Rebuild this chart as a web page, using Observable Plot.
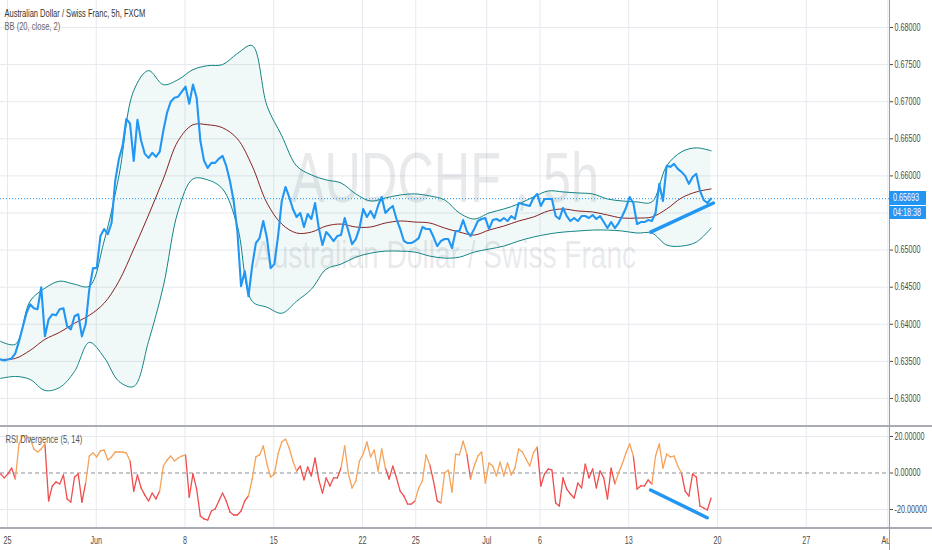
<!DOCTYPE html>
<html><head><meta charset="utf-8">
<script src="https://cdn.jsdelivr.net/npm/d3@7"></script>
<script src="https://cdn.jsdelivr.net/npm/@observablehq/plot@0.6"></script>
<style>
body{margin:0;background:#fff;font-family:"Liberation Sans",Arial,sans-serif;}
#wrap{position:relative;width:932px;height:550px;overflow:hidden;background:#fff;}
#main,#rsi{position:absolute;left:0;}
#main{top:0;} #rsi{top:427px;}
.sep{position:absolute;left:0;width:932px;height:2px;background:#a9acb3;}
.vline{position:absolute;left:889px;top:0;width:1px;height:550px;background:#9a9da5;}
.tag{position:absolute;left:889px;width:37px;background:#2196F3;color:#fff;font-size:10px;line-height:13px;height:13px;overflow:hidden;white-space:nowrap;}
.tag span{display:inline-block;transform:scaleX(0.72);transform-origin:left center;margin-left:4px;}
.mask{position:absolute;left:890px;top:529px;width:42px;height:21px;background:#fff;}
</style></head><body><div id="wrap"><div id="main"></div><div id="rsi"></div></div>
<script>
// ---------- data ----------
const symbolTitle = "Australian Dollar / Swiss Franc, 5h, FXCM";
const bbTitle = "BB (20, close, 2)";
const rsiTitle = "RSI Divergence (5, 14)";
const watermarkBig = "AUDCHF , 5h";
const watermarkSmall = "Australian Dollar / Swiss Franc";
const countdown = "04:18:38";

// trading-day positions of the x ticks (weekends removed)
const tickDays = [0, 5, 10, 15, 20, 23, 27, 30, 35, 40, 45, 49.6];
const tickLabels = ["25", "Jun", "8", "15", "22", "25", "Jul", "6", "13", "20", "27", "Aug"];
const priceTicks = [0.630, 0.635, 0.640, 0.645, 0.650, 0.655, 0.660, 0.665, 0.670, 0.675, 0.680];
const rsiTicks = [20, 0, -20];

const firstBarDay = -0.394;   // day of first visible 5h bar
const barStep = 0.2085;       // days per bar
const bandEvery = 4;          // band values read every 4 bars

const closes = [
0.63527,0.63513,0.63527,0.63540,0.63608,0.63770,0.63959,0.64149,0.64270,0.64216,
0.64202,0.64500,0.63838,0.64067,0.64135,0.64121,0.64202,0.64216,0.63973,0.63932,
0.64108,0.64135,0.63838,0.64000,0.64473,0.64757,0.64757,0.65189,0.65284,0.65216,
0.65365,0.65932,0.66230,0.66405,0.66770,0.66703,0.66203,0.66757,0.66473,0.66297,
0.66243,0.66311,0.66257,0.66324,0.66608,0.66851,0.67000,0.67054,0.67068,0.67135,
0.67203,0.66973,0.67230,0.67054,0.66473,0.66203,0.66108,0.66176,0.66176,0.66230,
0.66270,0.66135,0.65932,0.65662,0.65257,0.64514,0.64716,0.64378,0.64784,0.65095,
0.65162,0.65392,0.65162,0.64757,0.64811,0.65189,0.65662,0.65851,0.65716,0.65554,
0.65446,0.65500,0.65311,0.65487,0.65419,0.65635,0.65297,0.65068,0.65243,0.65189,
0.65122,0.65189,0.65203,0.65432,0.65257,0.65081,0.65149,0.65297,0.65554,0.65446,
0.65527,0.65432,0.65595,0.65716,0.65500,0.65554,0.65595,0.65419,0.65284,0.65122,
0.65095,0.65095,0.65122,0.65162,0.65311,0.65284,0.65284,0.65176,0.65054,0.65122,
0.65149,0.65149,0.65027,0.65257,0.65257,0.65405,0.65257,0.65189,0.65284,0.65392,
0.65419,0.65432,0.65284,0.65405,0.65419,0.65392,0.65432,0.65392,0.65459,0.65419,
0.65635,0.65622,0.65608,0.65595,0.65703,0.65757,0.65595,0.65689,0.65689,0.65689,
0.65459,0.65419,0.65568,0.65459,0.65392,0.65432,0.65392,0.65459,0.65459,0.65432,
0.65473,0.65419,0.65459,0.65378,0.65297,0.65378,0.65297,0.65365,0.65459,0.65568,
0.65716,0.65635,0.65351,0.65378,0.65378,0.65405,0.65392,0.65500,0.65892,0.65662,
0.66135,0.66122,0.66162,0.66095,0.66054,0.66000,0.65892,0.65986,0.66027,0.65797,
0.65676,0.65635,0.65693
];

const bbUpper = [
0.63770,0.63730,0.64311,0.64486,0.64581,0.64540,0.64514,0.65122,0.66000,0.67149,
0.67419,0.67230,0.67297,0.67432,0.67486,0.67500,0.67649,0.67757,0.66946,0.66541,
0.66135,0.66014,0.65946,0.65905,0.65757,0.65662,0.65703,0.65743,0.65757,0.65730,
0.65676,0.65500,0.65419,0.65500,0.65554,0.65622,0.65716,0.65797,0.65784,0.65770,
0.65757,0.65689,0.65662,0.65649,0.65649,0.66135,0.66324,0.66378,0.66338
];
const bbBasis = [
0.63527,0.63540,0.63648,0.63797,0.63892,0.64014,0.64121,0.64284,0.64581,0.65014,
0.65473,0.65959,0.66473,0.66689,0.66689,0.66649,0.66500,0.66135,0.65635,0.65351,
0.65230,0.65243,0.65324,0.65351,0.65311,0.65311,0.65365,0.65392,0.65378,0.65365,
0.65297,0.65243,0.65203,0.65270,0.65324,0.65392,0.65446,0.65527,0.65554,0.65527,
0.65514,0.65473,0.65432,0.65432,0.65446,0.65554,0.65703,0.65784,0.65824
];
const bbLower = [
0.63270,0.63297,0.63257,0.63108,0.63149,0.63365,0.63757,0.63554,0.63230,0.63162,
0.63770,0.64514,0.65527,0.65959,0.65946,0.65824,0.65324,0.64311,0.64230,0.64149,
0.64311,0.64473,0.64743,0.64811,0.64905,0.64959,0.64986,0.64986,0.64973,0.64919,
0.64892,0.64905,0.64973,0.65014,0.65054,0.65122,0.65176,0.65216,0.65243,0.65257,
0.65270,0.65270,0.65257,0.65230,0.65230,0.65068,0.65054,0.65108,0.65297
];

const rsiDiv = [
-0.5,-2.7,-0.5,2.7,-3.3,15.9,20.3,20.3,19.2,13.2,
11.5,13.2,15.9,-15.3,-7.1,-4.9,-6.0,-1.1,-14.2,-15.9,
-2.2,-0.5,-15.9,-5.5,9.3,11.0,8.8,12.1,12.6,7.1,
8.8,11.5,11.5,11.5,11.0,6.6,-9.9,-1.1,-8.2,-12.1,
-15.3,-11.0,-14.2,-9.9,3.8,7.1,9.3,6.6,8.2,9.3,
9.9,-13.2,-0.5,-8.8,-23.6,-25.2,-25.8,-20.8,-19.7,-15.3,
-11.0,-15.3,-21.4,-23.0,-23.0,-20.8,-15.3,-12.6,-3.3,8.8,
9.9,14.8,4.9,-2.2,-0.5,10.4,17.0,18.6,13.7,6.6,
1.1,3.8,-3.8,3.3,-1.6,8.2,-3.8,-11.0,-2.7,-7.1,
-2.7,-2.7,2.7,14.8,-0.5,-8.2,-4.4,6.6,10.4,17.0,
8.8,12.6,1.1,13.2,2.7,-3.3,3.8,-2.7,-9.9,-12.6,
-17.0,-17.0,-15.3,-8.2,-4.4,9.9,4.4,-4.4,-15.3,-16.4,
0.0,1.6,-10.4,10.4,9.9,17.5,10.4,-3.3,3.8,9.3,
11.5,-5.5,5.5,3.8,-1.6,6.0,-1.6,5.5,-1.1,2.7,
13.2,11.5,7.7,3.8,11.0,14.2,-7.1,-0.5,2.2,1.6,
-16.4,-18.1,-2.7,-8.8,-11.5,-13.7,-5.5,-8.2,4.9,-2.7,
2.2,-8.2,1.1,-2.7,-14.2,2.7,-6.0,0.0,4.9,11.0,
15.9,9.3,-8.8,-7.1,-7.1,-3.8,-6.0,9.3,15.9,2.7,
10.4,8.8,9.3,3.8,0.0,-9.9,-12.6,-0.5,-2.2,-18.1,
-19.2,-20.3,-13.7
];
// bar ranges where the RSI line is drawn orange (otherwise red)
const orangeRanges = [[5,12],[24,35],[44,50],[68,80],[93,104],[113,116],[120,126],[128,145],[167,171],[177,184]];

// hand-drawn divergence trend lines
const trendPrice = [{day: 36.23, v: 0.65243}, {day: 39.77, v: 0.65635}];
const trendRsi = [{day: 36.23, v: -9.3}, {day: 39.42, v: -24.5}];

// ---------- build ----------
const K = 0.72; // horizontal text squeeze of the reference
const FONT = "Liberation Sans, Arial, sans-serif";
const xDomain = [-0.394, 49.69];
const gridColor = "#e6e9ee";
const smooth = "catmull-rom";

const bars = closes.map((c, i) => ({day: firstBarDay + i * barStep, close: c}));
const bands = bbUpper.map((u, k) => ({day: firstBarDay + k * bandEvery * barStep, upper: u, basis: bbBasis[k], lower: bbLower[k]}));
const lastClose = closes[closes.length - 1];

function squeeze(svg) {
  svg.querySelectorAll("text").forEach(t => {
    const x = +t.getAttribute("x") || 0;
    const tr = t.getAttribute("transform") || "";
    t.setAttribute("transform", `${tr} translate(${x},0) scale(${K},1) translate(${-x},0)`);
  });
}

const main = Plot.plot({
  width: 932, height: 425,
  marginLeft: 0, marginRight: 43, marginTop: 0, marginBottom: 0,
  style: {fontFamily: FONT, fontSize: "10px", background: "transparent", overflow: "visible"},
  x: {domain: xDomain, axis: null},
  y: {domain: [0.62636, 0.68364], axis: null},
  marks: [
    Plot.gridY({ticks: priceTicks, stroke: gridColor, strokeOpacity: 1}),
    Plot.gridX({ticks: tickDays, stroke: gridColor, strokeOpacity: 1}),
    Plot.text([watermarkBig], {text: d => d, frameAnchor: "middle", dy: -11, lineAnchor: "bottom", fontSize: 70, fill: "#787b86", fillOpacity: 0.17}),
    Plot.text([watermarkSmall], {text: d => d, frameAnchor: "middle", dy: 55, lineAnchor: "bottom", fontSize: 39, fill: "#787b86", fillOpacity: 0.17}),
    Plot.areaY(bands, {x: "day", y1: "lower", y2: "upper", fill: "#198787", fillOpacity: 0.06, curve: smooth}),
    Plot.line(bands, {x: "day", y: "upper", stroke: "#138484", strokeWidth: 1, curve: smooth}),
    Plot.line(bands, {x: "day", y: "lower", stroke: "#138484", strokeWidth: 1, curve: smooth}),
    Plot.line(bands, {x: "day", y: "basis", stroke: "#872323", strokeWidth: 1, curve: smooth}),
    Plot.ruleY([lastClose], {stroke: "#2196F3", strokeWidth: 1, strokeDasharray: "1,2"}),
    Plot.line(bars, {x: "day", y: "close", stroke: "#2196F3", strokeWidth: 2.1, strokeLinejoin: "round"}),
    Plot.line(trendPrice, {x: "day", y: "v", stroke: "#2196F3", strokeWidth: 3.5, strokeLinecap: "round"}),
    Plot.axisY({ticks: priceTicks, anchor: "right", tickSize: 3, tickPadding: 2, tickFormat: d => d.toFixed(5), color: "#4a4a4a", fontSize: 10}),
    Plot.text([symbolTitle], {text: d => d, frameAnchor: "top-left", dx: 4, dy: 9, lineAnchor: "top", fontSize: 10.5, fill: "#333", fontWeight: 500}),
    Plot.text([bbTitle], {text: d => d, frameAnchor: "top-left", dx: 4, dy: 22, lineAnchor: "top", fontSize: 10.5, fill: "#666"})
  ]
});
squeeze(main);
document.getElementById("main").appendChild(main);

const inOrange = i => orangeRanges.some(([a, b]) => i >= a && i <= b);
const rsiPts = rsiDiv.map((v, i) => ({day: firstBarDay + i * barStep, v}));
const segs = rsiPts.slice(1).map((p, j) => ({x1: rsiPts[j].day, y1: rsiPts[j].v, x2: p.day, y2: p.v, orange: inOrange(j + 1)}));

const rsi = Plot.plot({
  width: 932, height: 123,
  marginLeft: 0, marginRight: 43, marginTop: 0, marginBottom: 23,
  style: {fontFamily: FONT, fontSize: "10px", background: "transparent", overflow: "visible"},
  x: {domain: xDomain, axis: null},
  y: {domain: [-29.86, 24.93], axis: null},
  marks: [
    Plot.gridY({ticks: [20, -20], stroke: gridColor, strokeOpacity: 1}),
    Plot.gridX({ticks: tickDays, stroke: gridColor, strokeOpacity: 1}),
    Plot.ruleY([0], {stroke: "#8a8d95", strokeDasharray: "4,3", strokeWidth: 1}),
    Plot.link(segs.filter(s => !s.orange), {x1: "x1", y1: "y1", x2: "x2", y2: "y2", stroke: "#ef4d4d", strokeWidth: 1.3, strokeLinecap: "round"}),
    Plot.link(segs.filter(s => s.orange), {x1: "x1", y1: "y1", x2: "x2", y2: "y2", stroke: "#f5a25a", strokeWidth: 1.3, strokeLinecap: "round"}),
    Plot.line(trendRsi, {x: "day", y: "v", stroke: "#2196F3", strokeWidth: 3.5, strokeLinecap: "round"}),
    Plot.axisY({ticks: rsiTicks, anchor: "right", tickSize: 3, tickPadding: 2, tickFormat: d => d.toFixed(5), color: "#4a4a4a", fontSize: 10}),
    Plot.axisX({ticks: tickDays, anchor: "bottom", tickSize: 0, tickPadding: 9, tickFormat: d => tickLabels[tickDays.indexOf(d)], color: "#4a4a4a", fontSize: 10}),
    Plot.text([rsiTitle], {text: d => d, frameAnchor: "top-left", dx: 5, dy: 8, lineAnchor: "top", fontSize: 10.5, fill: "#555"})
  ]
});
squeeze(rsi);
document.getElementById("rsi").appendChild(rsi);

// chrome: separators, axis line, price tag (placed with the plot's y scale)
const wrap = document.getElementById("wrap");
function addDiv(cls, css, html) {
  const d = document.createElement("div");
  d.className = cls; Object.assign(d.style, css);
  if (html) d.innerHTML = html;
  wrap.appendChild(d); return d;
}
addDiv("sep", {top: "425px"});
addDiv("sep", {top: "527px"});
addDiv("vline", {});
addDiv("mask", {});
const yTag = main.scale("y").apply(lastClose);
addDiv("tag", {top: (yTag - 7) + "px", height: "14px", lineHeight: "14px"}, `<span>${lastClose.toFixed(5)}</span>`);
addDiv("tag", {top: (yTag + 8) + "px"}, `<span>${countdown}</span>`);
</script></body></html>
